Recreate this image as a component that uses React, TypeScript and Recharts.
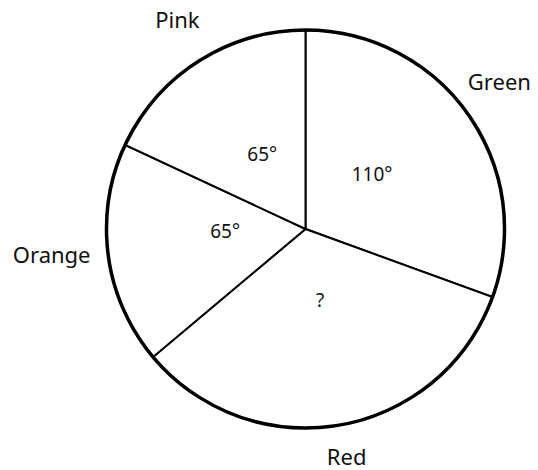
import { PieChart, Pie, Cell } from 'recharts';

document.body.style.margin = '0';

const names = ['Green', 'Red', 'Orange', 'Pink'];
const angles = [110, 120, 65, 65];
const angleLabels = ['110°', '?', '65°', '65°'];

// label placement: distance from the centre along the mid angle, plus a small nudge
const nameDist = [244, 231, 255, 246];
const nameNudge = [[-6, -8], [1, 0], [-1, -8], [4, -3]];
const innerDist = [85, 73, 81, 86];
const innerNudge = [[-3, -6], [2, -1], [0, -9], [3, -2]];

const data = names.map((name, i) => ({ name, value: angles[i] }));
const ring = [{ name: 'ring', value: 1 }];

const RAD = Math.PI / 180;
const FONT = '"Noto Sans", "Open Sans", sans-serif';

function renderLabels(props: any) {
  const { cx, cy, midAngle, index } = props;
  const c = Math.cos(-midAngle * RAD);
  const s = Math.sin(-midAngle * RAD);
  return (
    <g>
      <text
        x={cx + innerDist[index] * c + innerNudge[index][0]}
        y={cy + innerDist[index] * s + innerNudge[index][1]}
        textAnchor="middle"
        dominantBaseline="central"
        fontSize={19}
        fontFamily={FONT}
        fill="#111"
      >
        {angleLabels[index]}
      </text>
      <text
        x={cx + nameDist[index] * c + nameNudge[index][0]}
        y={cy + nameDist[index] * s + nameNudge[index][1]}
        textAnchor="middle"
        dominantBaseline="central"
        fontSize={22}
        fontFamily={FONT}
        fill="#111"
      >
        {names[index]}
      </text>
    </g>
  );
}

export default function App() {
  return (
    <div style={{ width: 538, height: 470, background: '#fff' }}>
      <PieChart width={538} height={470} margin={{ top: 0, right: 0, bottom: 0, left: 0 }}>
        <Pie
          data={data}
          dataKey="value"
          cx={305.5}
          cy={229}
          outerRadius={199}
          startAngle={90}
          endAngle={-270}
          stroke="#000"
          strokeWidth={2}
          label={renderLabels}
          labelLine={false}
          isAnimationActive={false}
        >
          {data.map((d) => (
            <Cell key={d.name} fill="#fff" />
          ))}
        </Pie>
        <Pie
          data={ring}
          dataKey="value"
          cx={305.5}
          cy={229}
          innerRadius={199}
          outerRadius={199}
          startAngle={90}
          endAngle={-270}
          fill="none"
          stroke="#000"
          strokeWidth={3.5}
          isAnimationActive={false}
        />
      </PieChart>
    </div>
  );
}
